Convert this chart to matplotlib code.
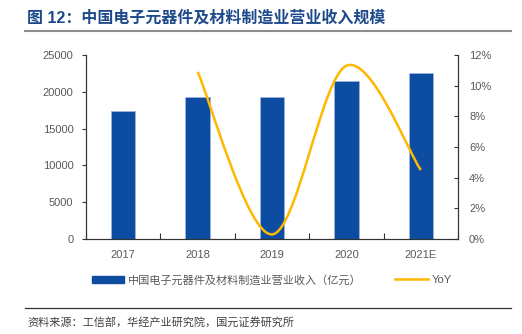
import matplotlib
matplotlib.use("Agg")
import matplotlib.pyplot as plt
from matplotlib.path import Path
from matplotlib.patches import PathPatch, Patch
from matplotlib.lines import Line2D
from matplotlib.ticker import FuncFormatter

plt.rcParams['font.family'] = ['Liberation Sans', 'Noto Sans CJK SC', 'DejaVu Sans']

categories = ['2017', '2018', '2019', '2020', '2021E']
revenue = [17400, 19250, 19330, 21510, 22510]
yoy_cats = ['2018', '2019', '2020', '2021E']
yoy = [10.9, 0.3, 11.3, 4.5]

title = '图 12：中国电子元器件及材料制造业营业收入规模'
bar_label = '中国电子元器件及材料制造业营业收入（亿元）'
line_label = 'YoY'
source = '资料来源：工信部，华经产业研究院，国元证券研究所'

bar_color = '#0C4DA2'
line_color = '#FFB800'
text_color = '#595959'

fig = plt.figure(figsize=(5.22, 3.34), dpi=100)
ax = fig.add_axes([86/522, 1-239/334, (458-86)/522, (239-55)/334])
ax2 = ax.twinx()

x = list(range(len(categories)))
ax.bar(x, revenue, width=0.33, color=bar_color, edgecolor='#9DB5DE', linewidth=0.6, zorder=2)
ax.set_xlim(-0.5, len(categories)-0.5)
ax.set_ylim(0, 25000)
ax.set_yticks(range(0, 25001, 5000))
ax.set_xticks(x)
ax.set_xticklabels(categories)
ax.set_xticks([i-0.5 for i in range(len(categories)+1)], minor=True)
ax.tick_params(axis='x', which='major', length=0, pad=8, labelsize=8, labelcolor=text_color)
ax.tick_params(axis='x', which='minor', direction='in', length=4, width=0.8, color='#333333')
ax.tick_params(axis='y', direction='out', length=3, width=0.8, pad=6, labelsize=8, labelcolor=text_color, color='#333333')

# smoothed YoY line drawn as Bezier path through the data points
xs = [categories.index(c) for c in yoy_cats]
pts = list(zip(xs, yoy))
n = len(pts)
verts = [pts[0]]
codes = [Path.MOVETO]
for i in range(n-1):
    p0 = pts[max(i-1, 0)]
    p1 = pts[i]
    p2 = pts[i+1]
    p3 = pts[min(i+2, n-1)]
    c1 = (p1[0] + (p2[0]-p0[0])/6, p1[1] + (p2[1]-p0[1])/6)
    c2 = (p2[0] - (p3[0]-p1[0])/6, p2[1] - (p3[1]-p1[1])/6)
    verts += [c1, c2, p2]
    codes += [Path.CURVE4]*3
ax2.add_patch(PathPatch(Path(verts, codes), facecolor='none', edgecolor=line_color, linewidth=1.8, capstyle='butt', zorder=3))
ax2.set_ylim(0, 12)
ax2.set_yticks(range(0, 13, 2))
ax2.yaxis.set_major_formatter(FuncFormatter(lambda v, p: f'{int(v)}%'))
ax2.tick_params(axis='y', direction='in', length=3, width=0.8, pad=8, labelsize=8, labelcolor=text_color, color='#333333')

for a in (ax, ax2):
    a.spines['top'].set_visible(False)
    for s in ('left', 'right', 'bottom'):
        a.spines[s].set_color('#333333')
        a.spines[s].set_linewidth(0.8)

handles = [Patch(facecolor=bar_color, edgecolor=bar_color),
           Line2D([0], [0], color=line_color, linewidth=1.8)]
fig.legend(handles, [bar_label, line_label], loc='center', bbox_to_anchor=(272/522, 1-280/334),
           ncol=2, frameon=False, fontsize=8, handlelength=2.9, handletextpad=0.4,
           columnspacing=3.0, labelcolor=text_color)

fig.text(27/522, 1-17.5/334, title, fontsize=11.5, fontweight='bold', color='#1E4A8C', va='center', ha='left')
fig.add_artist(Line2D([25/522, 511/522], [1-31/334, 1-31/334], color='#8C8C8C', linewidth=1.5))
fig.add_artist(Line2D([25/522, 511/522], [1-308/334, 1-308/334], color='#333333', linewidth=0.9))
fig.text(27/522, 1-322/334, source, fontsize=8, color='#404040', va='center', ha='left')

fig.savefig('out.png', dpi=100)
